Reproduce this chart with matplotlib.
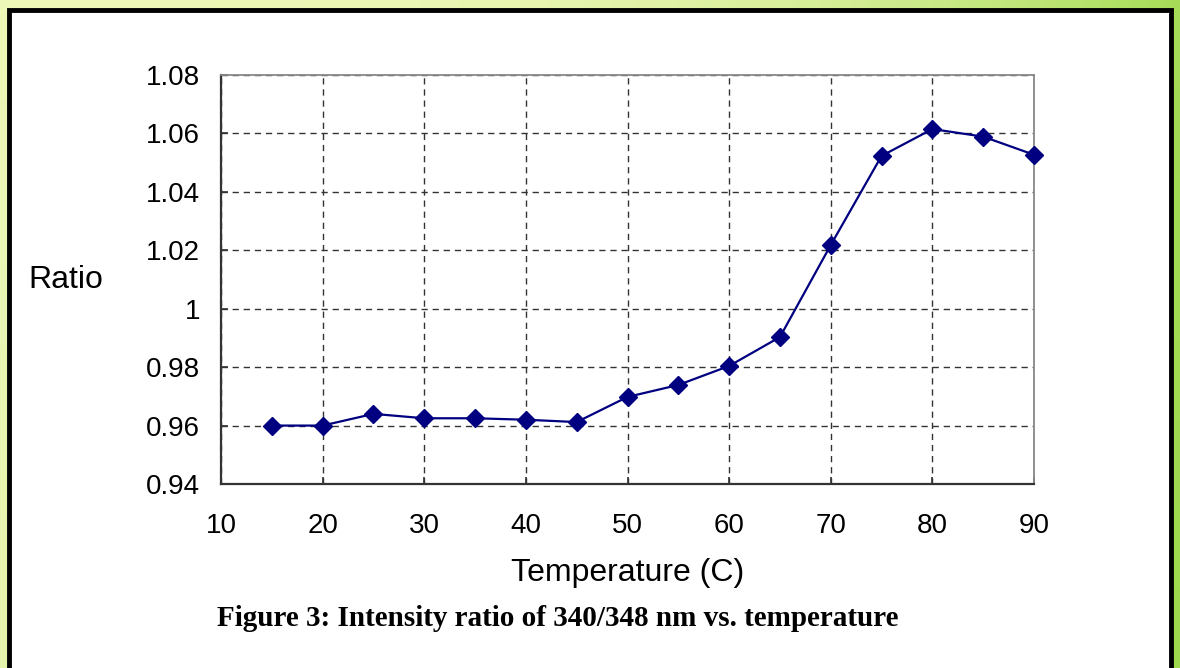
import numpy as np
import matplotlib
matplotlib.use("Agg")
import matplotlib.pyplot as plt
from matplotlib.patches import Rectangle

temperature = [15, 20, 25, 30, 35, 40, 45, 50, 55, 60, 65, 70, 75, 80, 85, 90]
ratio = [0.960, 0.960, 0.964, 0.9625, 0.9625, 0.962, 0.9612, 0.9698, 0.9739, 0.9804,
         0.9903, 1.0218, 1.0523, 1.0615, 1.0589, 1.0527]
x_ticks = [10, 20, 30, 40, 50, 60, 70, 80, 90]
y_ticks = [0.94, 0.96, 0.98, 1.00, 1.02, 1.04, 1.06, 1.08]
y_tick_labels = ["0.94", "0.96", "0.98", "1", "1.02", "1.04", "1.06", "1.08"]
x_label = "Temperature (C)"
y_label = "Ratio"
caption = "Figure 3: Intensity ratio of 340/348 nm vs. temperature"

W, H = 1180, 668
fig = plt.figure(figsize=(W / 100, H / 100), dpi=100)

# gradient background
bg = fig.add_axes([0, 0, 1, 1], zorder=-10)
bg.set_axis_off()
gx = np.linspace(0, 1, 200)
gy = np.linspace(0, 1, 100)
GX, GY = np.meshgrid(gx, gy)
c1 = np.array([0.93, 0.97, 0.72])   # pale yellow-green
c2 = np.array([0.62, 0.85, 0.30])   # green
t = np.clip(GX ** 3 * 0.9 + 0.1 * GY, 0, 1)[..., None]
img = c1 * (1 - t) + c2 * t
bg.imshow(img, extent=[0, 1, 0, 1], aspect="auto", origin="upper")
bg.set_xlim(0, 1)
bg.set_ylim(0, 1)

# white panel with black frame
fig.patches.append(Rectangle((9 / W, -0.02), (1171 - 9) / W, (H - 10) / H + 0.02,
                             transform=fig.transFigure, facecolor="white",
                             edgecolor="black", linewidth=3.5, zorder=-5))

ax = fig.add_axes([221 / W, (H - 484) / H, (1034 - 221) / W, (484 - 75) / H])
ax.set_facecolor("white")
ax.plot(temperature, ratio, color="#000080", linewidth=1.6, marker="D",
        markersize=9.5, markerfacecolor="#000080", markeredgecolor="#000080",
        zorder=5, clip_on=False)
ax.set_xlim(10, 90)
ax.set_ylim(0.94, 1.08)
ax.set_xticks(x_ticks)
ax.set_yticks(y_ticks)
ax.set_yticklabels(y_tick_labels)
ax.grid(True, color="#333333", linestyle=(0, (4.5, 3.5)), linewidth=1.0)
ax.tick_params(direction="in", length=5, width=1.2, color="#333333",
               labelsize=20, pad=0)
ax.tick_params(axis="x", pad=21)
ax.tick_params(axis="y", pad=15)
for lab in ax.get_xticklabels() + ax.get_yticklabels():
    lab.set_family(["Liberation Sans", "DejaVu Sans"])
for s in ["left", "bottom"]:
    ax.spines[s].set_color("#333333")
    ax.spines[s].set_linewidth(1.6)
for s in ["top", "right"]:
    ax.spines[s].set_color("#888888")
    ax.spines[s].set_linewidth(1.3)

fig.text(66 / W, 1 - 280 / H, y_label, ha="center", va="center", fontsize=23,
         family=["Liberation Sans", "DejaVu Sans"])
fig.text(628 / W, 1 - 573 / H, x_label, ha="center", va="center", fontsize=23,
         family=["Liberation Sans", "DejaVu Sans"])
fig.text(558 / W, 1 - 619 / H, caption, ha="center", va="center", fontsize=21,
         fontweight="bold", family=["Liberation Serif", "DejaVu Serif"])

fig.savefig("out.png", dpi=100)
